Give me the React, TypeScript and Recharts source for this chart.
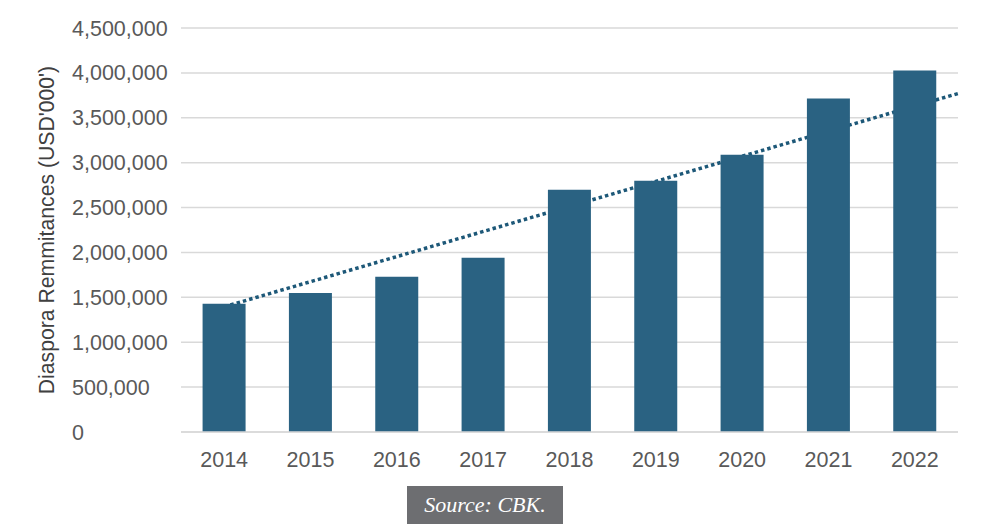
import React from 'react';
import { ComposedChart, Bar, Line, XAxis, YAxis, CartesianGrid, Label } from 'recharts';

const years = ['2014', '2015', '2016', '2017', '2018', '2019', '2020', '2021', '2022'];
const remittances = [1429000, 1548000, 1729000, 1941000, 2698000, 2799000, 3088000, 3715000, 4027000];
const trendX = [0, 8.5];
const trendValues = [1395000, 3770000];
const yTicks = [0, 500000, 1000000, 1500000, 2000000, 2500000, 3000000, 3500000, 4000000, 4500000];

const data = years.map((y, i) => ({ year: y, value: remittances[i] }));
const trendData = trendX.map((x, i) => ({ x, v: trendValues[i] }));

const FONT = '"Liberation Sans", Arial, sans-serif';

const YTick = (props: any) => {
  const { y, payload } = props;
  return (
    <text x={72} y={y} dy={7.5} textAnchor="start" fill="#595959" fontSize={21.5} fontFamily={FONT}>
      {Number(payload.value).toLocaleString('en-US')}
    </text>
  );
};

const XTick = (props: any) => {
  const { x, y, payload } = props;
  return (
    <text x={x} y={y} dy={27} textAnchor="middle" fill="#595959" fontSize={21.5} fontFamily={FONT}>
      {payload.value}
    </text>
  );
};

const YLabel = (props: any) => {
  const vb = props.viewBox || {};
  const cy = (vb.y ?? 28) + (vb.height ?? 404) / 2;
  return (
    <text
      x={46}
      y={cy}
      transform={`rotate(-90, 46, ${cy})`}
      textAnchor="middle"
      dominantBaseline="central"
      fill="#404040"
      fontSize={21.2}
      fontFamily={FONT}
    >
      Diaspora Remmitances (USD'000')
    </text>
  );
};

export default function App() {
  return (
    <div style={{ position: 'absolute', left: 0, top: 0, width: 1000, height: 532, background: '#ffffff' }}>
      <ComposedChart
        width={1000}
        height={480}
        data={data}
        margin={{ top: 28, right: 42, bottom: 8, left: 0 }}
        barCategoryGap="25%"
      >
        <CartesianGrid vertical={false} stroke="#d9d9d9" strokeWidth={1.5} />
        <XAxis
          xAxisId="cat"
          dataKey="year"
          type="category"
          height={40}
          axisLine={{ stroke: '#d9d9d9', strokeWidth: 1.5 }}
          tickLine={false}
          tick={<XTick />}
        />
        <XAxis xAxisId="num" dataKey="x" type="number" domain={[-0.5, 8.5]} hide />
        <YAxis
          width={181}
          domain={[0, 4500000]}
          ticks={yTicks}
          axisLine={false}
          tickLine={false}
          tick={<YTick />}
        >
          <Label content={<YLabel />} />
        </YAxis>
        <Line
          xAxisId="num"
          data={trendData}
          dataKey="v"
          stroke="#1d5878"
          strokeWidth={3.5}
          strokeDasharray="3.5 3"
          dot={false}
          activeDot={false}
          isAnimationActive={false}
          zIndex={200}
        />
        <Bar xAxisId="cat" dataKey="value" fill="#2a6282" isAnimationActive={false} />
      </ComposedChart>
      <div
        style={{
          position: 'absolute',
          left: 407,
          top: 486,
          width: 156,
          height: 38,
          background: '#6d6e71',
          color: '#ffffff',
          fontFamily: '"Liberation Serif", "DejaVu Serif", serif',
          fontStyle: 'italic',
          fontSize: 22,
          display: 'flex',
          alignItems: 'center',
          justifyContent: 'center',
        }}
      >
        Source: CBK.
      </div>
    </div>
  );
}
